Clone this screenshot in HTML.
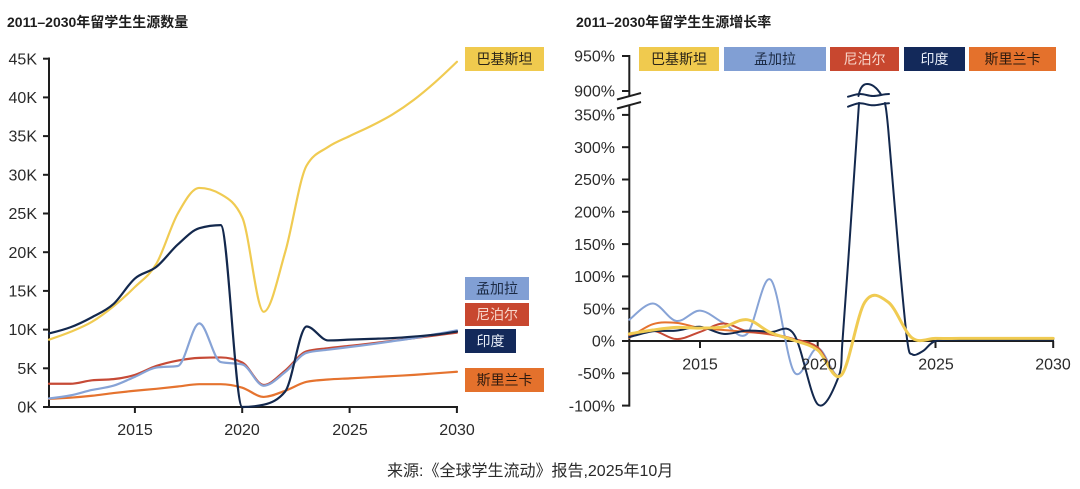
<!DOCTYPE html>
<html><head><meta charset="utf-8">
<style>
html,body{margin:0;padding:0;background:#fff;}
body{width:1080px;height:489px;overflow:hidden;position:relative;}
svg{position:absolute;left:0;top:0;}
</style></head><body>
<svg id="s" width="1080" height="489" viewBox="0 0 1080 489" xmlns="http://www.w3.org/2000/svg" font-family="'Liberation Sans','Noto Sans CJK SC',sans-serif">
<rect x="0" y="0" width="1080" height="489" fill="#fff"/>
<!-- titles -->
<text x="7" y="27" font-size="14" font-weight="bold" fill="#1e1e1e">2011–2030年留学生生源数量</text>
<text x="576" y="27" font-size="14" font-weight="bold" fill="#1e1e1e">2011–2030年留学生生源增长率</text>

<!-- LEFT AXES -->
<g fill="#2a2a2a" font-size="16" text-anchor="end">
<text x="37" y="64.3">45K</text>
<text x="37" y="103">40K</text>
<text x="37" y="141.7">35K</text>
<text x="37" y="180.4">30K</text>
<text x="37" y="219.1">25K</text>
<text x="37" y="257.8">20K</text>
<text x="37" y="296.5">15K</text>
<text x="37" y="335.2">10K</text>
<text x="37" y="373.9">5K</text>
<text x="37" y="412.6">0K</text>
</g>
<g stroke="#1e1e1e" stroke-width="2" fill="none">
<line x1="49" y1="57.5" x2="49" y2="408"/>
<line x1="49" y1="407" x2="458" y2="407"/>
<line x1="43" y1="58.7" x2="49" y2="58.7"/>
<line x1="43" y1="97.4" x2="49" y2="97.4"/>
<line x1="43" y1="136.1" x2="49" y2="136.1"/>
<line x1="43" y1="174.8" x2="49" y2="174.8"/>
<line x1="43" y1="213.5" x2="49" y2="213.5"/>
<line x1="43" y1="252.2" x2="49" y2="252.2"/>
<line x1="43" y1="290.9" x2="49" y2="290.9"/>
<line x1="43" y1="329.6" x2="49" y2="329.6"/>
<line x1="43" y1="368.3" x2="49" y2="368.3"/>
<line x1="43" y1="407" x2="49" y2="407"/>
<line x1="134.9" y1="407" x2="134.9" y2="413"/>
<line x1="242.2" y1="407" x2="242.2" y2="413"/>
<line x1="349.6" y1="407" x2="349.6" y2="413"/>
<line x1="456.9" y1="407" x2="456.9" y2="413"/>
</g>
<g fill="#2a2a2a" font-size="16" text-anchor="middle">
<text x="135" y="435">2015</text>
<text x="242" y="435">2020</text>
<text x="350" y="435">2025</text>
<text x="457" y="435">2030</text>
</g>

<!-- RIGHT AXES -->
<g fill="#2a2a2a" font-size="16" text-anchor="end">
<text x="615" y="61.7">950%</text>
<text x="615" y="96.7">900%</text>
<text x="615" y="120.6">350%</text>
<text x="615" y="152.9">300%</text>
<text x="615" y="185.2">250%</text>
<text x="615" y="217.5">200%</text>
<text x="615" y="249.8">150%</text>
<text x="615" y="282.1">100%</text>
<text x="615" y="314.4">50%</text>
<text x="615" y="346.7">0%</text>
<text x="615" y="379">-50%</text>
<text x="615" y="411.3">-100%</text>
</g>
<g stroke="#1e1e1e" stroke-width="2" fill="none">
<line x1="629.3" y1="55" x2="629.3" y2="96.3"/>
<line x1="629.3" y1="105.3" x2="629.3" y2="406.6"/>
<line x1="617" y1="99.5" x2="641" y2="93"/>
<line x1="617" y1="108.5" x2="641" y2="102"/>
<line x1="622" y1="56" x2="629.3" y2="56"/>
<line x1="622" y1="91" x2="629.3" y2="91"/>
<line x1="622" y1="114.9" x2="629.3" y2="114.9"/>
<line x1="622" y1="147.2" x2="629.3" y2="147.2"/>
<line x1="622" y1="179.5" x2="629.3" y2="179.5"/>
<line x1="622" y1="211.8" x2="629.3" y2="211.8"/>
<line x1="622" y1="244.1" x2="629.3" y2="244.1"/>
<line x1="622" y1="276.4" x2="629.3" y2="276.4"/>
<line x1="622" y1="308.7" x2="629.3" y2="308.7"/>
<line x1="622" y1="341" x2="629.3" y2="341"/>
<line x1="622" y1="373.3" x2="629.3" y2="373.3"/>
<line x1="622" y1="405.6" x2="629.3" y2="405.6"/>
<line x1="629.3" y1="341" x2="1054" y2="341"/>
<line x1="700" y1="341" x2="700" y2="348"/>
<line x1="817.7" y1="341" x2="817.7" y2="348"/>
<line x1="935.5" y1="341" x2="935.5" y2="348"/>
<line x1="1053.2" y1="341" x2="1053.2" y2="348"/>
</g>

<g id="leftSeries"></g>
<g id="rightSeries"></g>

<g fill="#2a2a2a" font-size="16" text-anchor="middle">
<text x="700" y="369.5">2015</text>
<text x="819" y="369.5">2020</text>
<text x="936" y="369.5">2025</text>
<text x="1053" y="369.5">2030</text>
</g>

<!-- LEFT LEGEND -->
<g font-size="14" text-anchor="middle">
<rect x="465" y="47" width="79" height="24" fill="#f0ca4e"/>
<text x="504.5" y="64" fill="#2a2418">巴基斯坦</text>
<rect x="465" y="277" width="64" height="23" fill="#819fd4"/>
<text x="497" y="293.5" fill="#1c2b45">孟加拉</text>
<rect x="465" y="303" width="64" height="23" fill="#c8472f"/>
<text x="497" y="319.5" fill="#f7d6ca">尼泊尔</text>
<rect x="465" y="329" width="51" height="24" fill="#13295a"/>
<text x="490.5" y="346" fill="#e8eef8">印度</text>
<rect x="465" y="368" width="79" height="24" fill="#e4712c"/>
<text x="504.5" y="385" fill="#2e1a0e">斯里兰卡</text>
</g>

<!-- RIGHT LEGEND -->
<g font-size="14" text-anchor="middle">
<rect x="639" y="47" width="80" height="24" fill="#f0ca4e"/>
<text x="679" y="64" fill="#2a2418">巴基斯坦</text>
<rect x="724" y="47" width="102" height="24" fill="#819fd4"/>
<text x="775" y="64" fill="#1c2b45">孟加拉</text>
<rect x="830" y="47" width="69" height="24" fill="#c8472f"/>
<text x="864.5" y="64" fill="#f7d6ca">尼泊尔</text>
<rect x="904" y="47" width="61" height="24" fill="#13295a"/>
<text x="934.5" y="64" fill="#e8eef8">印度</text>
<rect x="969" y="47" width="87" height="24" fill="#e4712c"/>
<text x="1012.5" y="64" fill="#2e1a0e">斯里兰卡</text>
</g>

<!-- India break symbol -->
<g stroke="#13284d" stroke-width="2" fill="none" stroke-linecap="round">
<path d="M858.5,96 C860,88 863,84 867,84 C872,84 877,88 881,94.5"/>
<path d="M848,96.7 C853,95.5 856,94 860,94 C865,94 868,96 873,96 C879,96 883,94 889,94"/>
<path d="M848,106.7 C853,105 856,103.3 860,103.3 C865,103.3 868,105.3 873,105.3 C879,105.3 883,103.3 889,103.3"/>
</g>

<text x="387" y="476" font-size="16" fill="#2a2a2a">来源:《全球学生流动》报告,2025年10月</text>
</svg>
<script>
(function(){
var NS="http://www.w3.org/2000/svg";
function add(g,d,c,w){var p=document.createElementNS(NS,'path');p.setAttribute('d',d);p.setAttribute('fill','none');p.setAttribute('stroke',c);p.setAttribute('stroke-width',w);p.setAttribute('stroke-linejoin','round');p.setAttribute('stroke-linecap','round');g.appendChild(p);}
function f(v){return Math.round(v*100)/100;}
function mono(pts){
  var n=pts.length,s=[],m=[],i;
  for(i=0;i<n-1;i++)s.push((pts[i+1][1]-pts[i][1])/(pts[i+1][0]-pts[i][0]));
  for(i=1;i<n-1;i++){var h0=pts[i][0]-pts[i-1][0],h1=pts[i+1][0]-pts[i][0],s0=s[i-1],s1=s[i];var p=(s0*h1+s1*h0)/(h0+h1);var sg0=s0<0?-1:1,sg1=s1<0?-1:1;m[i]=(sg0+sg1)*Math.min(Math.abs(s0),Math.abs(s1),0.5*Math.abs(p))||0;}
  m[0]=(3*s[0]-m[1])/2;m[n-1]=(3*s[n-2]-m[n-2])/2;
  var d='M'+f(pts[0][0])+','+f(pts[0][1]);
  for(i=0;i<n-1;i++){var x0=pts[i][0],y0=pts[i][1],x1=pts[i+1][0],y1=pts[i+1][1],dx=(x1-x0)/3;
    d+=' C'+f(x0+dx)+','+f(y0+dx*m[i])+' '+f(x1-dx)+','+f(y1-dx*m[i+1])+' '+f(x1)+','+f(y1);}
  return d;
}
function cr(pts){
  var n=pts.length,d='M'+f(pts[0][0])+','+f(pts[0][1]);
  for(var i=0;i<n-1;i++){var p0=pts[Math.max(i-1,0)],p1=pts[i],p2=pts[i+1],p3=pts[Math.min(i+2,n-1)];
    d+=' C'+f(p1[0]+(p2[0]-p0[0])/6)+','+f(p1[1]+(p2[1]-p0[1])/6)+' '+f(p2[0]-(p3[0]-p1[0])/6)+','+f(p2[1]-(p3[1]-p1[1])/6)+' '+f(p2[0])+','+f(p2[1]);}
  return d;
}
var C={pak:'#f0cb52',ban:'#87a3d6',nep:'#c64a36',ind:'#13284d',sri:'#e5732f'};
// LEFT
function LX(i){return 49+i*21.47;} function LY(v){return 407-v*7.74;}
function lp(arr){return arr.map(function(v,i){return [LX(i),LY(v)];});}
var L={
 sri:[1.05,1.2,1.45,1.8,2.1,2.35,2.65,2.95,2.95,2.5,1.3,2.1,3.25,3.55,3.7,3.85,4.0,4.15,4.35,4.55],
 nep:[3.0,3.0,3.45,3.6,4.15,5.3,6.0,6.35,6.4,5.75,2.85,4.7,7.2,7.6,7.9,8.2,8.55,8.9,9.25,9.6],
 ban:[1.1,1.5,2.2,2.75,3.9,5.1,5.3,10.8,5.8,5.5,2.75,4.5,7.0,7.4,7.75,8.1,8.5,8.9,9.4,9.9],
 pak:[8.7,9.7,11.0,13.0,15.5,18.5,25.0,28.3,27.5,24.5,12.3,20.0,31.2,33.6,35.0,36.3,37.8,39.7,42.0,44.6],
 ind:[9.5,10.3,11.6,13.3,16.6,18.1,21.0,23.1,23.5,0,0.3,2.0,10.4,8.6,8.7,8.8,8.9,9.1,9.35,9.75]
};
var lg=document.getElementById('leftSeries');
['sri','nep','ban','pak','ind'].forEach(function(k){add(lg,mono(lp(L[k])),C[k],2.2);});
// RIGHT
function RX(i){return 629.3+i*23.55;} function RY(v){return 341-v*0.646;}
function rp(arr){return arr.map(function(v,i){return [RX(i),RY(v)];});}
var tail=[-53,60,60,5,4,4,4,4,4,4];
var R={
 ban:[33,58,31,47,28,11,95,-48,-11].concat(tail),
 sri:[5,26,28,20,17,14,10,2,-10].concat(tail),
 nep:[9,16,3,14,27,15,11,3,-10].concat(tail),
 pak:[11,17,21,20,22,33,13,1,-14].concat(tail)
};
var rg=document.getElementById('rightSeries');
['ban','sri','nep'].forEach(function(k){add(rg,cr(rp(R[k])),C[k],2);});
// India
var ind=[6,15,16,22,11,16,14,10,-98].map(function(v,i){return [RX(i),RY(v)];});
ind=ind.concat([[838.5,377],[842.5,341],[848.3,260],[859,103]]);
add(rg,cr(ind),C.ind,2);
var ind2=[[885,103],[888.3,130],[899.3,260],[907.3,341],[912.5,354.5],[923,351],[935.5,341],[959,339.8],[982.6,339.8],[1006.1,339.8],[1029.7,339.8],[1053.2,339.8]];
add(rg,cr(ind2),C.ind,2);
add(rg,cr(rp(R.pak)),C.pak,3);
})();
</script>
</body></html>
